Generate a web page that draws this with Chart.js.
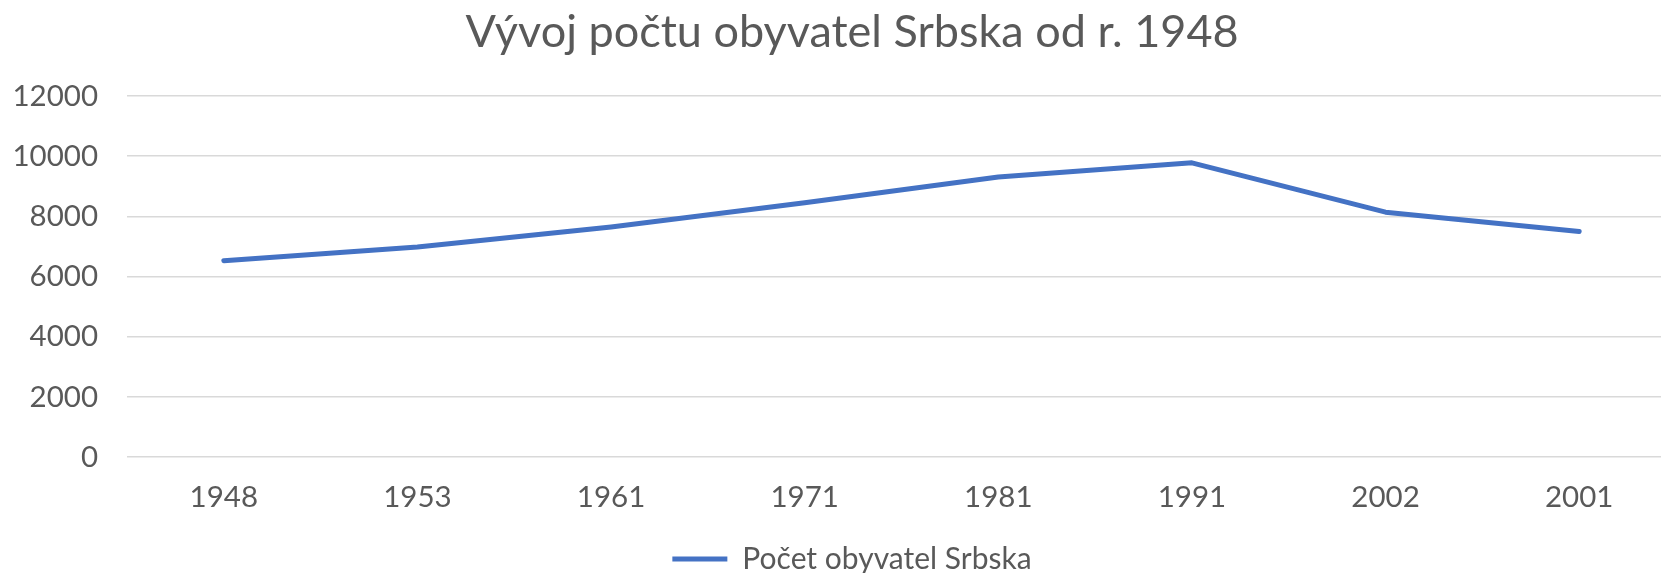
<!DOCTYPE html>
<html>
<head>
<meta charset="utf-8">
<script src="https://cdn.jsdelivr.net/npm/chart.js@4/dist/chart.umd.min.js"></script>
<style>
html,body{margin:0;padding:0;background:#fff;overflow:hidden;width:1661px;height:573px;}
#wrap{position:absolute;left:0;top:0;width:1704px;height:584px;}
</style>
</head>
<body>
<div id="wrap"><canvas id="c" width="1704" height="584"></canvas></div>
<script>
const categories = ["1948","1953","1961","1971","1981","1991","2002","2001"];
const population = [6530, 6980, 7650, 8450, 9310, 9780, 8140, 7500];
const seriesName = "Počet obyvatel Srbska";
const chartTitle = "Vývoj počtu obyvatel Srbska od r. 1948";
const yTicks = [0, 2000, 4000, 6000, 8000, 10000, 12000];

const FONT = "Lato";
const GRAY = "#595959";
const BLUE = "#4472C4";

new Chart(document.getElementById("c"), {
  type: "line",
  data: {
    labels: categories,
    datasets: [{
      label: seriesName,
      data: population,
      borderColor: BLUE,
      backgroundColor: BLUE,
      borderWidth: 5,
      borderCapStyle: "round",
      borderJoinStyle: "round",
      pointRadius: 0,
      pointHoverRadius: 0,
      tension: 0,
      fill: false,
      yAxisID: "y"
    }]
  },
  options: {
    responsive: false,
    animation: false,
    layout: { padding: 0 },
    plugins: {
      title: {
        display: true,
        text: chartTitle,
        color: GRAY,
        font: { family: FONT, size: 45, weight: "normal" },
        padding: { top: 5, bottom: 37 }
      },
      legend: {
        position: "bottom",
        labels: {
          color: GRAY,
          font: { family: FONT, size: 30 },
          usePointStyle: true,
          pointStyle: "line",
          pointStyleWidth: 55,
          boxHeight: 30,
          padding: 6
        }
      },
      tooltip: { enabled: false }
    },
    scales: {
      x: {
        offset: true,
        grid: { display: false, drawTicks: false },
        border: { display: false },
        ticks: { color: GRAY, font: { family: FONT, size: 29.5 }, padding: 23, maxRotation: 0 },
        afterFit: (s) => { s.height = 80.8; }
      },
      y: {
        position: "left",
        min: 0,
        max: 12000,
        afterBuildTicks: (s) => { s.ticks = yTicks.map(v => ({ value: v })); },
        grid: { color: "#d9d9d9", lineWidth: 1.5, drawTicks: false },
        border: { display: false },
        ticks: { color: GRAY, font: { family: FONT, size: 29.5 }, padding: 29, callback: (v) => String(v) },
        afterFit: (s) => { s.width = 127; }
      },
      yRight: {
        position: "right",
        display: true,
        grid: { display: false, drawTicks: false },
        border: { display: false },
        ticks: { display: false },
        afterFit: (s) => { s.width = 28; }
      }
    }
  }
});
</script>
</body>
</html>
